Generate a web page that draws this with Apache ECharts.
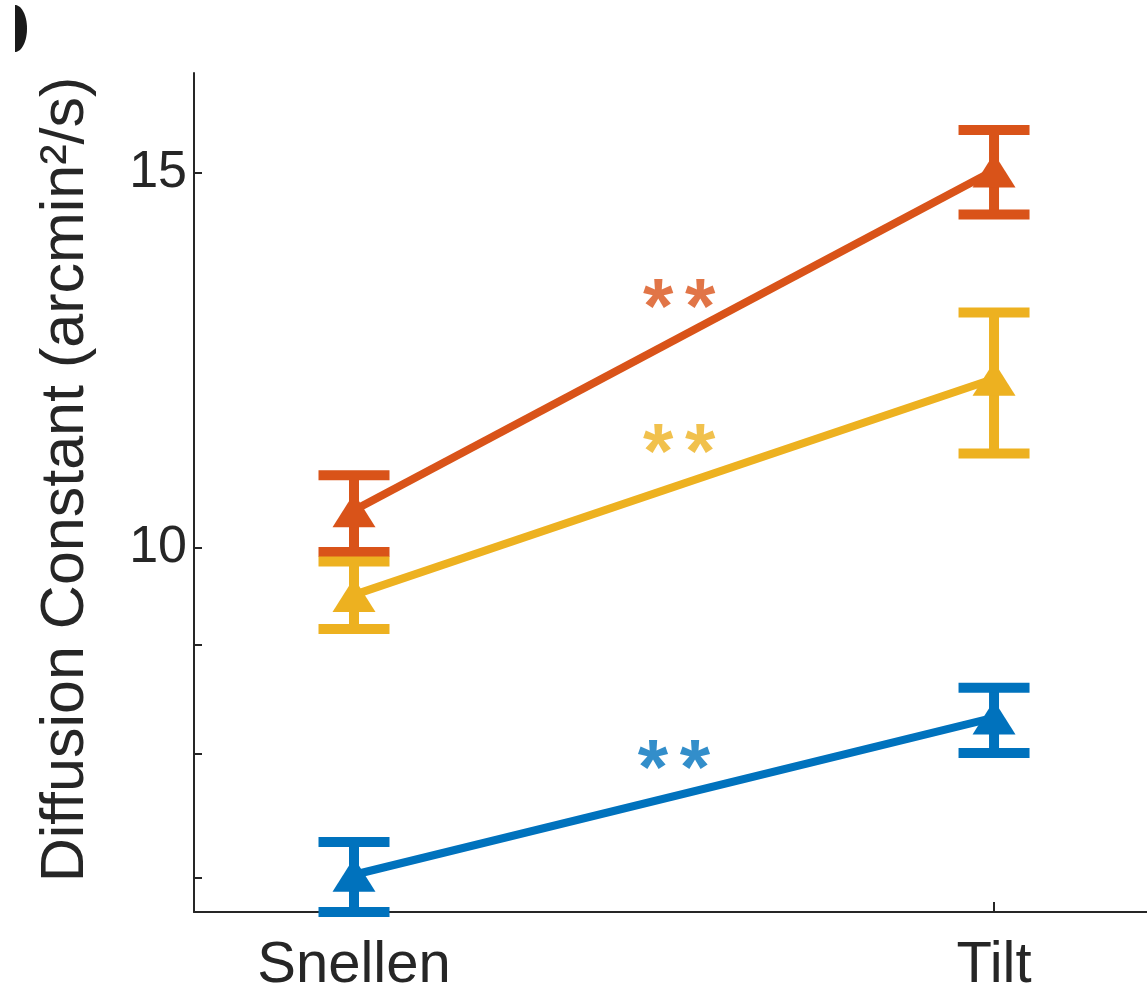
<!DOCTYPE html>
<html>
<head>
<meta charset="utf-8">
<script src="https://cdn.jsdelivr.net/npm/echarts@6/dist/echarts.min.js"></script>
<style>
  html, body { margin: 0; padding: 0; background: #fff; }
  #chart { width: 1147px; height: 988px; }
</style>
</head>
<body>
<div id="chart"></div>
<script>
// ---- data ----
const categories = ['Snellen', 'Tilt'];
const catX = [1, 2];
const yTickValues = [7, 8, 9, 10, 15];
const yLabelValues = [10, 15];

const orangeMean = [10.41, 15.03];
const orangeLow  = [9.95, 14.33];
const orangeHigh = [10.81, 15.70];

const yellowMean = [9.50, 12.00];
const yellowLow  = [9.155, 11.07];
const yellowHigh = [9.85, 12.89];

const blueMean = [7.02, 8.32];
const blueLow  = [6.743, 8.007];
const blueHigh = [7.273, 8.592];

const sigText = '**';
const orangeSig = [1.508, 13.15];
const yellowSig = [1.508, 11.24];
const blueSig   = [1.500, 7.99];

// ---- styling ----
const C_ORANGE = '#D95319';
const C_YELLOW = '#EDB120';
const C_BLUE = '#0072BD';
const AXIS = '#262626';
const FONT = '"Liberation Sans", Arial, Helvetica, sans-serif';

function pairs(xs, ys) { return xs.map((x, i) => [x, ys[i]]); }
function errData(lo, hi) { return catX.map((x, i) => [x, lo[i], hi[i]]); }

function errSeries(color, lo, hi) {
  return {
    type: 'custom',
    z: 2,
    silent: true,
    data: errData(lo, hi),
    renderItem: function (params, api) {
      const x = api.value(0);
      const pHi = api.coord([x, api.value(2)]);
      const pLo = api.coord([x, api.value(1)]);
      const capW = 71, th = 10;
      return {
        type: 'group',
        children: [
          { type: 'rect', shape: { x: pHi[0] - th / 2, y: pHi[1], width: th, height: pLo[1] - pHi[1] }, style: { fill: color } },
          { type: 'rect', shape: { x: pHi[0] - capW / 2, y: pHi[1] - th / 2, width: capW, height: th }, style: { fill: color } },
          { type: 'rect', shape: { x: pLo[0] - capW / 2, y: pLo[1] - th / 2, width: capW, height: th }, style: { fill: color } }
        ]
      };
    }
  };
}

function lineSeries(color, mean) {
  return {
    type: 'line',
    z: 3,
    data: pairs(catX, mean),
    symbol: 'triangle',
    symbolSize: [43, 34],
    showAllSymbol: true,
    lineStyle: { color: color, width: 8 },
    itemStyle: { color: color },
    silent: true,
    animation: false
  };
}

function sigSeries(color, pos) {
  return {
    type: 'scatter',
    z: 4,
    data: [pos],
    symbolSize: 0,
    silent: true,
    label: {
      show: true,
      position: 'inside',
      offset: [0, 17],
      formatter: function () { return sigText.split('').map(c => '{a|' + c + '}').join(''); },
      rich: { a: { width: 42, align: 'center', fontSize: 78, fontWeight: 'bold', color: color, fontFamily: FONT } }
    }
  };
}

// clipped panel-letter blob in the top-left corner (half ellipse)
const blobPts = [];
for (let i = 0; i <= 40; i++) {
  const t = -Math.PI / 2 + Math.PI * i / 40;
  blobPts.push([15 + 12 * Math.cos(t), 28.5 + 23.5 * Math.sin(t)]);
}

const chart = echarts.init(document.getElementById('chart'), null, { renderer: 'canvas' });
chart.setOption({
  animation: false,
  backgroundColor: '#ffffff',
  grid: { left: 194, right: 0, top: 73, bottom: 76, containLabel: false, outerBoundsMode: 'none' },
  xAxis: {
    type: 'value',
    min: 0.75,
    max: 2.239,
    splitLine: { show: false },
    axisLine: { show: true, onZero: false, lineStyle: { color: AXIS, width: 2 } },
    axisTick: { show: true, inside: true, length: 10, customValues: catX, lineStyle: { color: AXIS, width: 2 } },
    axisLabel: {
      customValues: catX,
      formatter: function (v) { return categories[Math.round(v) - 1]; },
      fontSize: 58, color: AXIS, fontFamily: FONT, margin: 25
    }
  },
  yAxis: {
    type: 'log',
    logBase: 10,
    min: 6.743,
    max: 16.7,
    splitLine: { show: false },
    minorTick: { show: false },
    axisLine: { show: true, onZero: false, lineStyle: { color: AXIS, width: 2 } },
    axisTick: { show: true, inside: true, length: 8, customValues: yTickValues, lineStyle: { color: AXIS, width: 2 } },
    axisLabel: {
      customValues: yLabelValues,
      formatter: function (v) { return String(Math.round(v)); },
      fontSize: 52, color: AXIS, fontFamily: FONT, margin: 7,
      padding: [36, 0, 0, 0]
    },
    name: 'Diffusion Constant (arcmin\u00B2/s)',
    nameLocation: 'middle',
    nameRotate: 90,
    nameGap: 97,
    nameTextStyle: { fontSize: 61, color: AXIS, fontFamily: FONT, padding: [0, 0, 0, 26] }
  },
  graphic: [
    { type: 'polygon', shape: { points: blobPts }, style: { fill: '#1a1a1a' } }
  ],
  series: [
    errSeries(C_BLUE, blueLow, blueHigh),
    errSeries(C_ORANGE, orangeLow, orangeHigh),
    errSeries(C_YELLOW, yellowLow, yellowHigh),
    lineSeries(C_BLUE, blueMean),
    lineSeries(C_ORANGE, orangeMean),
    lineSeries(C_YELLOW, yellowMean),
    sigSeries(C_ORANGE, orangeSig),
    sigSeries(C_YELLOW, yellowSig),
    sigSeries(C_BLUE, blueSig)
  ]
});
</script>
</body>
</html>
